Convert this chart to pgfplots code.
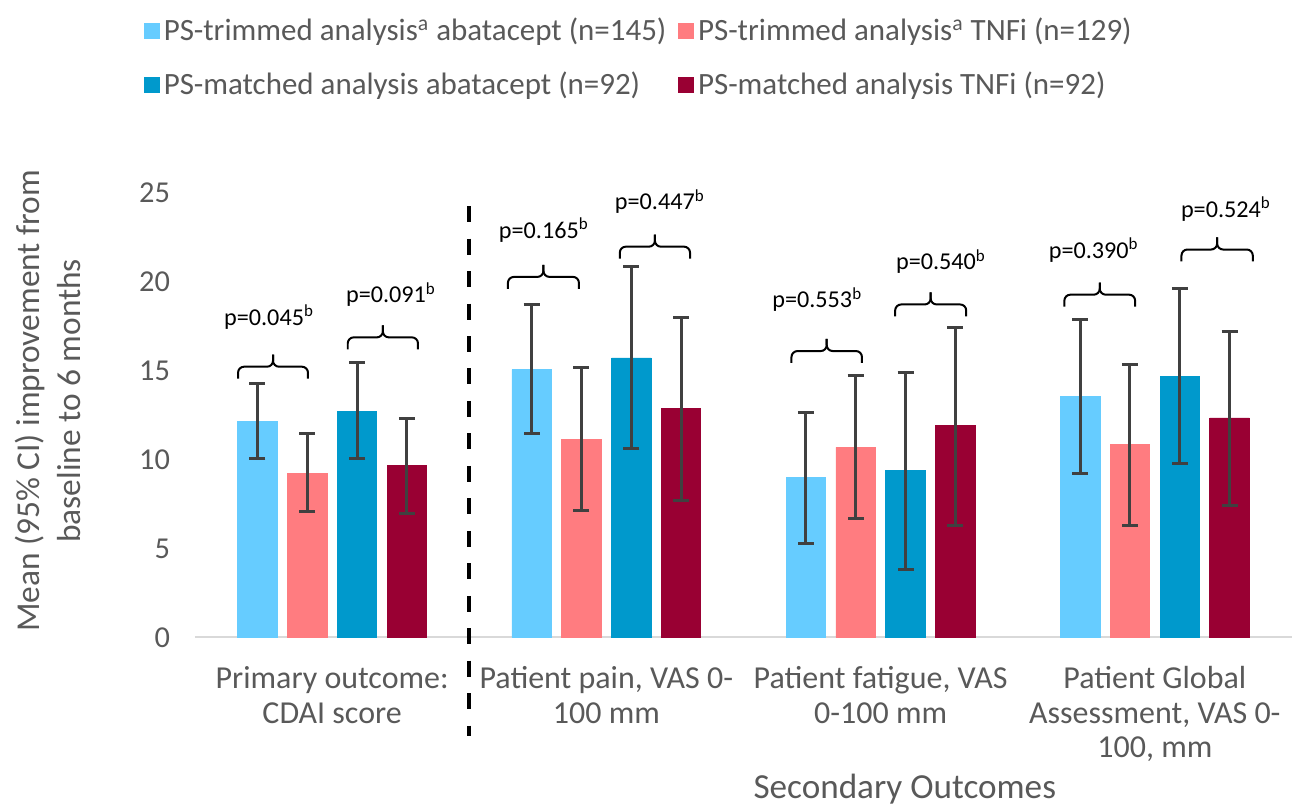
\documentclass[border=0pt]{standalone}
\usepackage{pgfplots}
\pgfplotsset{compat=1.18}
\usepackage{pgfplotstable}
\usepackage{fontspec}
\setmainfont{Carlito}

\definecolor{ltblue}{HTML}{66CCFF}
\definecolor{salmon}{HTML}{FF7C80}
\definecolor{dkblue}{HTML}{0099CC}
\definecolor{maroon}{HTML}{990033}
\definecolor{txtgray}{HTML}{595959}
\definecolor{errgray}{HTML}{404040}

% x = outcome, y = mean, ep/em = distance to upper/lower 95% CI
\pgfplotstableread{
x y ep em
0 12.15 2.10 2.11
1 15.06 3.65 3.62
2 9.00 3.66 3.72
3 13.56 4.31 4.35
}\trimabt
\pgfplotstableread{
x y ep em
0 9.20 2.24 2.14
1 11.12 4.03 3.97
2 10.69 4.03 4.00
3 10.84 4.50 4.53
}\trimtnf
\pgfplotstableread{
x y ep em
0 12.71 2.76 2.67
1 15.71 5.15 5.11
2 9.38 5.52 5.58
3 14.68 4.96 4.90
}\matchabt
\pgfplotstableread{
x y ep em
0 9.66 2.64 2.69
1 12.85 5.11 5.14
2 11.91 5.49 5.60
3 12.34 4.87 4.91
}\matchtnf

% bracket: left x, right x, y of the feet
\newcommand{\pbr}[3]{%
  \draw[line width=1pt, rounded corners=3pt] (axis cs:#1,#3) |- (axis cs:{(#1+#2)/2},#3+0.67) -- (axis cs:{(#1+#2)/2},#3+1.35);
  \draw[line width=1pt, rounded corners=3pt] (axis cs:#2,#3) |- (axis cs:{(#1+#2)/2},#3+0.67) -- (axis cs:{(#1+#2)/2},#3+1.35);
}

\begin{document}
\begin{tikzpicture}
\begin{axis}[
  scale only axis, width=549pt, height=222.5pt,
  xmin=-0.5, xmax=3.5, ymin=0, ymax=25,
  clip=false,
  axis x line*=bottom,
  x axis line style={draw=gray!30, line width=1pt, -},
  y axis line style={draw=none},
  xtick={0,1,2,3},
  xticklabels={{Primary outcome:\\CDAI score},{Patient pain, VAS 0-\\100 mm},{Patient fatigue, VAS\\0-100 mm},{Patient Global\\Assessment, VAS 0-\\100, mm}},
  ytick={0,5,...,25},
  major tick length=0pt,
  xtick style={draw=none}, ytick style={draw=none},
  /pgf/number format/assume math mode=true,
  yticklabel style={font=\fontsize{15.2}{18}\selectfont, text=txtgray, xshift=-9pt},
  xticklabel style={font=\fontsize{16}{17.35}\selectfont, text=txtgray, align=center, anchor=north, yshift=-11pt},
  ybar, bar width=19.75pt, bar shift=0pt,
  error bars/y dir=both, error bars/y explicit,
  error bars/error bar style={line width=1.5pt, errgray},
  error bars/error mark options={rotate=90, mark size=4pt, line width=1.5pt, errgray},
  legend image code/.code={\fill[#1] (0pt,-3.75pt) rectangle (7.5pt,3.75pt);},
  legend style={at={(0.4055,1.412)}, anchor=north, draw=none, legend columns=2,
    font=\fontsize{15.5}{18}\selectfont, text=txtgray, row sep=10pt,
    /tikz/every even column/.append style={column sep=4pt}},
  legend cell align=left,
]
\addplot[fill=ltblue, draw=ltblue]
  table[x expr=\thisrow{x}-0.2723, y=y, y error plus=ep, y error minus=em] {\trimabt};
\addlegendentry{PS-trimmed analysis\textsuperscript{a} abatacept (n=145)}
\addplot[fill=salmon, draw=salmon]
  table[x expr=\thisrow{x}-0.0908, y=y, y error plus=ep, y error minus=em] {\trimtnf};
\addlegendentry{PS-trimmed analysis\textsuperscript{a} TNFi (n=129)}
\addplot[fill=dkblue, draw=dkblue]
  table[x expr=\thisrow{x}+0.0908, y=y, y error plus=ep, y error minus=em] {\matchabt};
\addlegendentry{PS-matched analysis abatacept (n=92)}
\addplot[fill=maroon, draw=maroon]
  table[x expr=\thisrow{x}+0.2723, y=y, y error plus=ep, y error minus=em] {\matchtnf};
\addlegendentry{PS-matched analysis TNFi (n=92)}

% separator between primary and secondary outcomes
\draw[black, line width=2.2pt, dash pattern=on 8pt off 8.25pt] (axis cs:0.5,24.25) -- (axis cs:0.5,-5.56);

% p-value brackets
\pbr{-0.343}{-0.088}{14.55}
\pbr{0.057}{0.313}{16.2}
\pbr{0.641}{0.900}{19.6}
\pbr{1.049}{1.305}{21.3}
\pbr{1.675}{1.932}{15.43}
\pbr{2.053}{2.312}{18.05}
\pbr{2.670}{2.928}{18.6}
\pbr{3.097}{3.357}{21.14}
\begin{scope}[every node/.style={font=\fontsize{12.1}{14}\selectfont}]
  \node at (axis cs:-0.230,18.0) {p=0.045\textsuperscript{b}};
  \node at (axis cs:0.2145,19.27) {p=0.091\textsuperscript{b}};
  \node at (axis cs:0.772,22.9) {p=0.165\textsuperscript{b}};
  \node at (axis cs:1.195,24.5) {p=0.447\textsuperscript{b}};
  \node at (axis cs:1.769,19.0) {p=0.553\textsuperscript{b}};
  \node at (axis cs:2.220,21.14) {p=0.540\textsuperscript{b}};
  \node at (axis cs:2.777,21.76) {p=0.390\textsuperscript{b}};
  \node at (axis cs:3.259,24.08) {p=0.524\textsuperscript{b}};
\end{scope}

\node[rotate=90, align=center, font=\fontsize{16.7}{20.3}\selectfont, text=txtgray]
  at (axis cs:-1.036,13.3) {Mean (95\% CI) improvement from\\baseline to 6 months};
\node[font=\fontsize{17.6}{20}\selectfont, text=txtgray] at (axis cs:2.088,-8.54) {Secondary Outcomes};

% page extent
\path (axis cs:-1.211,35.84) rectangle (axis cs:3.503,-9.38);
\end{axis}
\end{tikzpicture}
\end{document}
